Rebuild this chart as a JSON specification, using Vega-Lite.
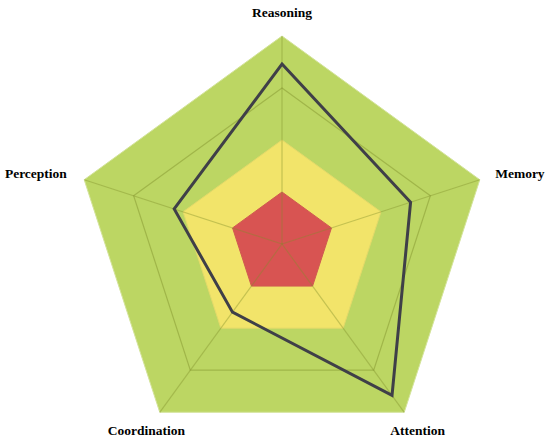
{
  "$schema": "https://vega.github.io/schema/vega-lite/v6.json",
  "width": 550,
  "height": 443,
  "padding": 0,
  "autosize": {"type": "none"},
  "background": "white",
  "config": {"view": {"stroke": null}},
  "datasets": {
    "axes": [
      {"axis": "Reasoning", "i": 0, "score": 3.46},
      {"axis": "Memory", "i": 1, "score": 2.6},
      {"axis": "Attention", "i": 2, "score": 3.6},
      {"axis": "Coordination", "i": 3, "score": 1.62},
      {"axis": "Perception", "i": 4, "score": 2.18}
    ],
    "rings": [
      {"level": 4, "i": 0}, {"level": 4, "i": 1}, {"level": 4, "i": 2}, {"level": 4, "i": 3}, {"level": 4, "i": 4},
      {"level": 3, "i": 0}, {"level": 3, "i": 1}, {"level": 3, "i": 2}, {"level": 3, "i": 3}, {"level": 3, "i": 4},
      {"level": 2, "i": 0}, {"level": 2, "i": 1}, {"level": 2, "i": 2}, {"level": 2, "i": 3}, {"level": 2, "i": 4},
      {"level": 1, "i": 0}, {"level": 1, "i": 1}, {"level": 1, "i": 2}, {"level": 1, "i": 3}, {"level": 1, "i": 4}
    ]
  },
  "encoding": {
    "x": {"field": "x", "type": "quantitative", "axis": null, "scale": {"domain": [-5.4231, 5.1538], "nice": false, "zero": false}},
    "y": {"field": "y", "type": "quantitative", "axis": null, "scale": {"domain": [-3.8269, 4.6923], "nice": false, "zero": false}}
  },
  "layer": [
    {
      "data": {"name": "rings"},
      "transform": [
        {"filter": "datum.level == 4"},
        {"calculate": "datum.level * sin(2 * PI * datum.i / 5)", "as": "x"},
        {"calculate": "datum.level * cos(2 * PI * datum.i / 5)", "as": "y"}
      ],
      "mark": {"type": "line", "interpolate": "linear-closed", "fill": "#BCD663", "stroke": "#D3E39A", "strokeWidth": 1},
      "encoding": {"order": {"field": "i", "type": "quantitative"}}
    },
    {
      "data": {"name": "rings"},
      "transform": [
        {"filter": "datum.level == 2"},
        {"calculate": "datum.level * sin(2 * PI * datum.i / 5)", "as": "x"},
        {"calculate": "datum.level * cos(2 * PI * datum.i / 5)", "as": "y"}
      ],
      "mark": {"type": "line", "interpolate": "linear-closed", "fill": "#F2E46A", "stroke": "#E3D96A", "strokeWidth": 1},
      "encoding": {"order": {"field": "i", "type": "quantitative"}}
    },
    {
      "data": {"name": "rings"},
      "transform": [
        {"filter": "datum.level == 1"},
        {"calculate": "datum.level * sin(2 * PI * datum.i / 5)", "as": "x"},
        {"calculate": "datum.level * cos(2 * PI * datum.i / 5)", "as": "y"}
      ],
      "mark": {"type": "line", "interpolate": "linear-closed", "fill": "#D85452", "stroke": "#CF5A50", "strokeWidth": 1},
      "encoding": {"order": {"field": "i", "type": "quantitative"}}
    },
    {
      "data": {"name": "rings"},
      "transform": [
        {"filter": "datum.level == 3"},
        {"calculate": "datum.level * sin(2 * PI * datum.i / 5)", "as": "x"},
        {"calculate": "datum.level * cos(2 * PI * datum.i / 5)", "as": "y"}
      ],
      "mark": {"type": "line", "interpolate": "linear-closed", "stroke": "#7F8F2A", "strokeOpacity": 0.45, "strokeWidth": 1.2},
      "encoding": {"order": {"field": "i", "type": "quantitative"}}
    },
    {
      "data": {"name": "axes"},
      "transform": [
        {"calculate": "0", "as": "x"},
        {"calculate": "0", "as": "y"},
        {"calculate": "4 * sin(2 * PI * datum.i / 5)", "as": "x2"},
        {"calculate": "4 * cos(2 * PI * datum.i / 5)", "as": "y2"}
      ],
      "mark": {"type": "rule", "stroke": "#7F8F2A", "strokeOpacity": 0.4, "strokeWidth": 1.2},
      "encoding": {"x2": {"field": "x2"}, "y2": {"field": "y2"}}
    },
    {
      "data": {"name": "axes"},
      "transform": [
        {"calculate": "datum.score * sin(2 * PI * datum.i / 5)", "as": "x"},
        {"calculate": "datum.score * cos(2 * PI * datum.i / 5)", "as": "y"}
      ],
      "mark": {"type": "line", "interpolate": "linear-closed", "stroke": "#3F3F48", "strokeWidth": 3, "strokeJoin": "miter"},
      "encoding": {"order": {"field": "i", "type": "quantitative"}}
    },
    {
      "data": {"name": "axes"},
      "transform": [
        {"filter": "datum.axis == 'Reasoning' || datum.axis == 'Attention' || datum.axis == 'Coordination'"},
        {"calculate": "4.44 * sin(2 * PI * datum.i / 5)", "as": "x"},
        {"calculate": "4.44 * cos(2 * PI * datum.i / 5)", "as": "y"}
      ],
      "mark": {"type": "text", "font": "Liberation Serif", "fontWeight": "bold", "fontSize": 13.5, "align": "center", "baseline": "middle", "color": "#000000"},
      "encoding": {"text": {"field": "axis"}}
    },
    {
      "data": {"name": "axes"},
      "transform": [
        {"filter": "datum.axis == 'Memory'"},
        {"calculate": "4.31 * sin(2 * PI * datum.i / 5)", "as": "x"},
        {"calculate": "4.36 * cos(2 * PI * datum.i / 5)", "as": "y"}
      ],
      "mark": {"type": "text", "font": "Liberation Serif", "fontWeight": "bold", "fontSize": 13.5, "align": "left", "baseline": "middle", "color": "#000000"},
      "encoding": {"text": {"field": "axis"}}
    },
    {
      "data": {"name": "axes"},
      "transform": [
        {"filter": "datum.axis == 'Perception'"},
        {"calculate": "4.35 * sin(2 * PI * datum.i / 5)", "as": "x"},
        {"calculate": "4.36 * cos(2 * PI * datum.i / 5)", "as": "y"}
      ],
      "mark": {"type": "text", "font": "Liberation Serif", "fontWeight": "bold", "fontSize": 13.5, "align": "right", "baseline": "middle", "color": "#000000"},
      "encoding": {"text": {"field": "axis"}}
    }
  ]
}
